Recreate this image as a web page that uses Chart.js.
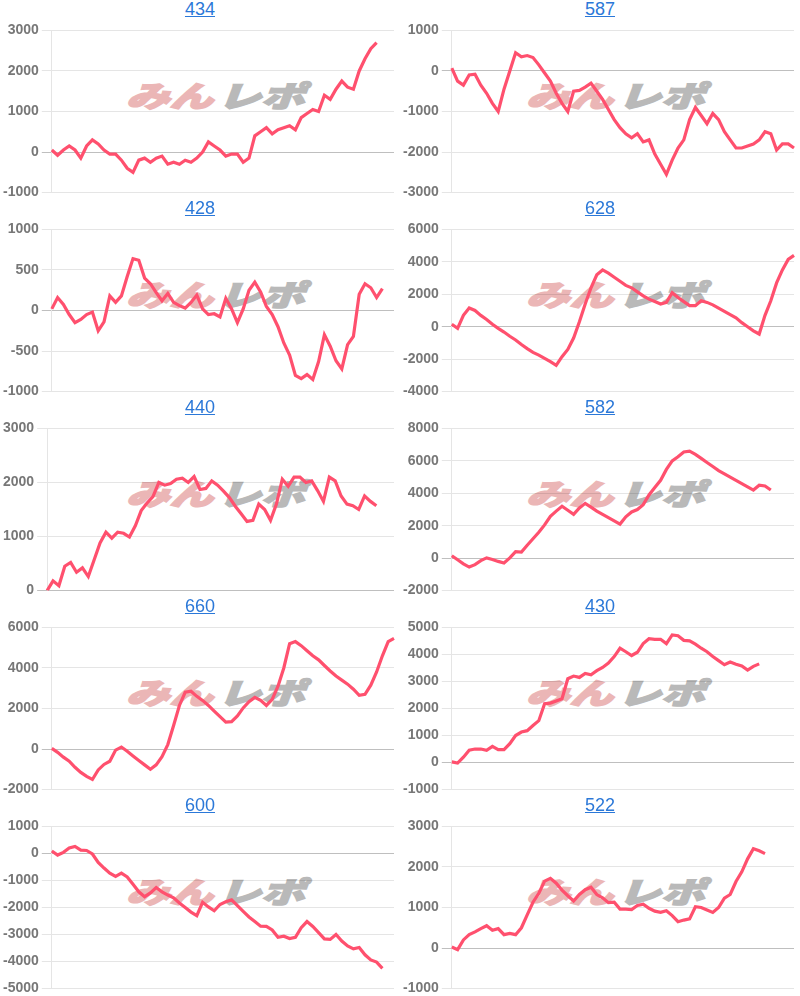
<!DOCTYPE html>
<html>
<head>
<meta charset="utf-8">
<script src="https://cdn.jsdelivr.net/npm/chart.js@4.4.1/dist/chart.umd.min.js"></script>
<style>
  body { margin: 0; background: #fff; font-family: "Liberation Sans", Arial, sans-serif; }
  #grid { display: grid; grid-template-columns: 400px 400px; grid-auto-rows: 199px; width: 800px; }
  .panel { position: relative; height: 199px; }
  .ttl { display: block; text-align: center; height: 19px; line-height: 19px; font-size: 18px; color: #2b78d8; text-decoration: underline; position: relative; z-index: 2; }
  .wm { position: absolute; left: 126px; top: 78px; white-space: nowrap; font-family: "Noto Sans CJK JP", sans-serif;
        font-weight: 900; font-style: italic; font-size: 29px; line-height: 32px;
        transform: scaleX(1.5); transform-origin: left top; z-index: 0; }
  .wm .m { color: #ebb6b6; -webkit-text-stroke: 1.6px #ebb6b6; }
  .wm .r { color: #b9b9b9; -webkit-text-stroke: 1.6px #b9b9b9; margin-left: 3px; }
  canvas { position: relative; z-index: 1; display: block; }
</style>
</head>
<body>
<div id="grid"></div>
<script>
// タイトル（台番号）
const titles = ["434", "587", "428", "628", "440", "582", "660", "430", "600", "522"];

// y軸の範囲
const yMins  = [-1000, -3000, -1000, -4000,    0, -2000, -2000, -1000, -5000, -1000];
const yMaxs  = [ 3000,  1000,  1000,  6000, 3000,  8000,  6000,  5000,  1000,  3000];
const ySteps = [ 1000,  1000,   500,  2000, 1000,  2000,  2000,  1000,  1000,  1000];

// x軸（60区切り）
const xLabels = Array.from({ length: 60 }, (_, i) => String(i + 1));

// 差枚推移
const s434 = [50,-80,50,150,50,-150,150,300,200,50,-50,-50,-200,-400,-500,-200,-150,-250,-150,-100,
  -300,-250,-300,-200,-250,-150,0,250,150,50,-100,-50,-50,-250,-150,400,500,600,450,550,
  600,650,550,850,950,1050,1000,1400,1300,1550,1750,1600,1550,2000,2300,2550,2700];
const s587 = [70,-250,-350,-100,-80,-350,-550,-800,-1000,-450,0,450,350,380,330,150,-50,-250,-550,-800,
  -1000,-500,-480,-400,-300,-500,-700,-950,-1200,-1400,-1550,-1650,-1550,-1750,-1700,-2050,-2300,-2550,-2200,-1900,
  -1700,-1200,-900,-1100,-1300,-1050,-1200,-1500,-1700,-1900,-1900,-1850,-1800,-1700,-1500,-1550,-1950,-1800,-1800,-1900];
const s428 = [20,160,75,-50,-150,-110,-50,-20,-250,-140,180,100,180,420,640,620,400,330,220,120,
  210,100,60,30,100,190,20,-50,-40,-80,150,20,-150,20,250,350,230,50,-50,-200,
  -400,-550,-800,-840,-790,-850,-630,-300,-440,-620,-720,-420,-320,200,330,280,160,270];
const s628 = [150,-100,700,1150,1000,700,450,150,-100,-330,-590,-820,-1100,-1350,-1580,-1750,-1950,-2150,-2380,-1850,
  -1400,-700,300,1400,2400,3200,3500,3300,3050,2800,2550,2400,2150,1900,1700,1550,1400,1500,2100,1800,
  1550,1300,1300,1600,1500,1350,1150,950,750,550,250,0,-250,-450,700,1600,2700,3500,4150,4400];
const s440 = [0,180,90,450,520,340,420,260,570,880,1080,970,1080,1060,990,1200,1480,1620,1740,2000,
  1950,1980,2060,2080,2000,2110,1870,1890,2030,1950,1840,1720,1560,1420,1280,1300,1600,1500,1300,1600,
  2060,1930,2100,2100,2000,2030,1850,1650,2100,2030,1750,1600,1570,1500,1750,1650,1570];
const s582 = [150,-100,-350,-550,-400,-150,20,-80,-200,-300,20,400,380,800,1200,1600,2050,2580,2900,3200,
  2950,2700,3100,3380,3150,2900,2700,2500,2300,2100,2550,2850,3000,3300,3900,4350,4800,5470,6000,6250,
  6550,6600,6400,6150,5900,5650,5400,5200,5000,4800,4600,4400,4200,4500,4450,4200];
const s660 = [30,-160,-400,-600,-900,-1150,-1350,-1500,-1030,-760,-600,-50,100,-110,-340,-560,-780,-1000,-780,-380,
  220,1160,2150,2800,2850,2600,2400,2150,1870,1600,1330,1350,1630,2030,2340,2550,2400,2150,2450,3100,
  4000,5200,5300,5100,4850,4600,4400,4120,3850,3600,3400,3200,2950,2650,2700,3150,3800,4600,5300,5460];
const s430 = [25,-20,200,460,500,500,450,600,480,480,700,1000,1130,1180,1370,1550,2180,2200,2280,2360,
  3100,3200,3150,3300,3250,3400,3520,3680,3920,4230,4100,3960,4080,4400,4580,4560,4560,4400,4720,4690,
  4520,4500,4380,4230,4100,3920,3770,3620,3720,3640,3570,3420,3560,3650];
const s600 = [90,-60,40,200,260,120,110,-20,-330,-540,-730,-850,-730,-870,-1140,-1420,-1600,-1460,-1260,-1420,
  -1540,-1640,-1830,-2000,-2170,-2300,-1810,-1980,-2120,-1890,-1790,-1720,-1930,-2140,-2350,-2520,-2690,-2700,-2830,-3100,
  -3060,-3150,-3100,-2750,-2520,-2700,-2930,-3160,-3180,-3000,-3240,-3420,-3530,-3480,-3750,-3940,-4020,-4250];
const s522 = [25,-40,200,330,400,480,550,440,480,330,360,330,500,820,1130,1350,1650,1720,1600,1430,
  1290,1160,1320,1440,1500,1320,1240,1120,1130,960,960,950,1050,1080,980,910,880,920,800,650,
  690,720,1020,1000,940,880,1000,1230,1320,1640,1880,2200,2450,2400,2330];

const allSeries = [s434, s587, s428, s628, s440, s582, s660, s430, s600, s522];

const grid = document.getElementById("grid");

function gridColor(c) {
  if (c.tick && c.tick.value === 0) return "rgba(0,0,0,0.25)";
  return "rgba(0,0,0,0.1)";
}

titles.forEach((t, i) => {
  let panel = document.createElement("div");
  panel.className = "panel";
  panel.innerHTML = `<a class="ttl" href="#">${t}</a>
    <div class="wm"><span class="m">みん</span><span class="r">レポ</span></div>
    <canvas width="400" height="185"></canvas>`;
  grid.appendChild(panel);

  let ctx = panel.querySelector("canvas").getContext("2d");
  new Chart(ctx, {
    type: "line",
    data: {
      labels: xLabels,
      datasets: [{
        data: allSeries[i],
        borderColor: "rgb(255,80,110)",
        borderWidth: 3.2,
        pointRadius: 0,
        fill: false,
        tension: 0
      }]
    },
    options: {
      responsive: false,
      animation: false,
      layout: { padding: { left: 0, right: 6, top: 0, bottom: 0 } },
      plugins: { legend: { display: false }, tooltip: { enabled: false } },
      scales: {
        x: { display: false },
        y: {
          min: yMins[i],
          max: yMaxs[i],
          ticks: {
            stepSize: ySteps[i],
            color: "#777",
            padding: 3,
            font: { family: "'Liberation Sans', Arial, sans-serif", size: 14, weight: "bold" },
            callback: v => String(v)
          },
          grid: { color: gridColor, tickLength: 10 },
          border: { color: "rgba(0,0,0,0.1)" }
        }
      }
    }
  });
});
</script>
</body>
</html>
